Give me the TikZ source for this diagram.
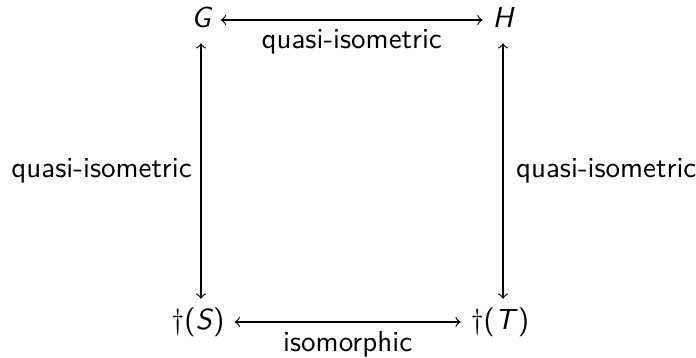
\documentclass[tikz,border=0pt]{standalone}
\usepackage{fontspec}
\begin{document}
\begin{tikzpicture}[x=0.3448pt,y=-0.3448pt, font=\sffamily,
  obj/.style={inner sep=3.3pt, text height=7pt, text depth=2pt},
  arr/.style={{to}-{to}, line width=0.4pt},
  lab/.style={inner sep=3pt}]
\useasboundingbox (0,0) rectangle (696,358);
\node[obj] (G) at (201,20) {\itshape G};
\node[obj] (H) at (503,20) {\itshape H};
\node[obj] (S) at (198,322) {\textdagger(\textit{S})};
\node[obj] (T) at (500,322) {\textdagger(\textit{T})};
\draw[arr] (G) -- (H) node[lab, midway, below] {quasi-isometric};
\draw[arr] (S) -- (T) node[lab, midway, below] {isomorphic};
\draw[arr] (G.south) -- (G.south |- S.north) node[lab, midway, left] {quasi-isometric};
\draw[arr] (H.south) -- (H.south |- T.north) node[lab, midway, right, inner sep=4.3pt] {quasi-isometric};
\end{tikzpicture}
\end{document}
